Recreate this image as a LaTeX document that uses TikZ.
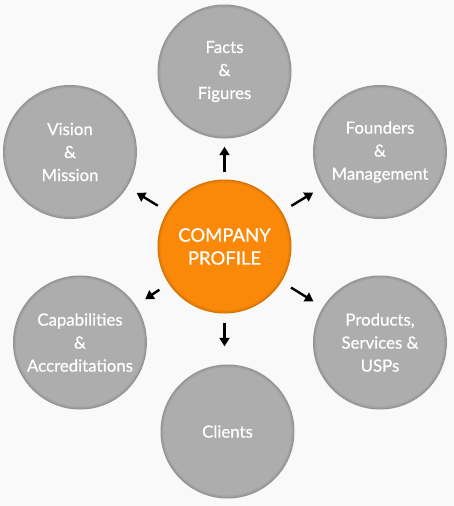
\documentclass[tikz,border=0pt]{standalone}
\usepackage{fontspec}
\setmainfont{Lato}
\newfontfamily\ballfont[FakeBold=0.6]{Lato}
\usetikzlibrary{arrows.meta}
\definecolor{bg}{RGB}{249,249,249}
\definecolor{ballgray}{RGB}{173,173,173}
\definecolor{ballorange}{RGB}{250,137,10}
\tikzset{
  ball/.style={circle, minimum size=134pt, inner sep=0pt, fill=ballgray, text=white,
    align=center, font=\ballfont\fontsize{16.8}{23}\selectfont,
    path picture={
      \draw[black, opacity=0.14, line width=1pt] (path picture bounding box.center) circle (66.5pt);
      \draw[black, opacity=0.08, line width=1pt] (path picture bounding box.center) circle (65.5pt);
      \draw[black, opacity=0.04, line width=1pt] (path picture bounding box.center) circle (64.5pt);
    }},
  hub/.style={ball, fill=ballorange, font=\ballfont\fontsize{18.5}{23}\selectfont},
  link/.style={-{Triangle[length=8.5pt,width=10pt]}, line width=2.4pt, black},
}
\begin{document}
\begin{tikzpicture}[x=1pt,y=-1pt]
\fill[bg] (0,0) rectangle (454,506);
\useasboundingbox (0,0) rectangle (454,506);
\node[hub] (c) at (224.5,246.5) {COMPANY\\PROFILE};
\node[ball] (facts) at (224.5,71.5) {Facts\\\&\\Figures};
\node[ball] (vision) at (70,152) {Vision\\\&\\Mission};
\node[ball] (found) at (380,152) {Founders\\\&\\Management};
\node[ball] (caps) at (80,342.5) {Capabilities\\\&\\Accreditations};
\node[ball] (prod) at (380,342.5) {Products,\\Services \&\\USPs};
\node[ball] (cli) at (227.5,431.5) {Clients};
\draw[link, shorten <=7pt, shorten >=8pt] (c.north) -- (c.north |- facts.south);
\draw[link, shorten <=9pt, shorten >=18pt] (c.south) -- (c.south |- cli.north);
\draw[link, shorten <=11pt, shorten >=11pt] (c) -- (vision);
\draw[link, shorten <=11pt, shorten >=11pt] (c) -- (found);
\draw[link, shorten <=11pt, shorten >=11pt] (c) -- (caps);
\draw[link, shorten <=11pt, shorten >=11pt] (c) -- (prod);
\end{tikzpicture}
\end{document}
